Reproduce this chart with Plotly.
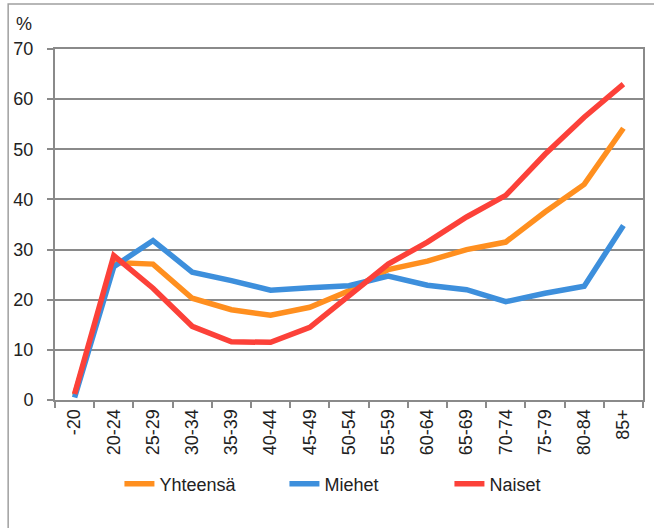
import plotly.graph_objects as go

ages = ["-20", "20-24", "25-29", "30-34", "35-39", "40-44", "45-49", "50-54",
        "55-59", "60-64", "65-69", "70-74", "75-79", "80-84", "85+"]
yhteensa = [1.0, 27.4, 27.1, 20.3, 18.0, 16.9, 18.5, 21.8, 26.0, 27.7, 30.0, 31.5, 37.5, 43.0, 54.2]
miehet = [0.5, 26.6, 31.8, 25.5, 23.8, 21.9, 22.4, 22.8, 24.7, 22.9, 22.0, 19.6, 21.3, 22.7, 34.8]
naiset = [1.2, 28.8, 22.3, 14.7, 11.6, 11.5, 14.5, 20.8, 27.1, 31.5, 36.5, 40.8, 49.0, 56.4, 63.0]

W, H = 654, 528
L, R, T, B = 55, 9, 49, 128
pw, ph = W - L - R, H - T - B

def px(x):
    return (x - L) / pw

def py(y):
    return (H - B - y) / ph

fnt = "Liberation Sans, Arial"
grid = "#8a8a8a"

fig = go.Figure()
for name, vals, col in [("Yhteensä", yhteensa, "#ff8f1f"),
                        ("Miehet", miehet, "#3d8fdc"),
                        ("Naiset", naiset, "#fc4139")]:
    fig.add_trace(go.Scatter(x=ages, y=vals, name=name, mode="lines",
                             line=dict(color=col, width=5.5)))

fig.update_layout(
    width=W, height=H,
    margin=dict(l=L, r=R, t=T, b=B),
    paper_bgcolor="white", plot_bgcolor="white",
    font=dict(family=fnt, size=17, color="#222"),
    showlegend=True,
    legend=dict(orientation="h", x=px(368), xanchor="center", y=py(484), yanchor="middle",
                font=dict(size=18), entrywidth=120, traceorder="normal"),
    xaxis=dict(type="category", range=[-0.5, 14.5], showgrid=False, showline=True,
               linecolor=grid, linewidth=2, mirror=True, ticks="outside",
               tickson="boundaries", ticklen=6, tickwidth=2, tickcolor=grid,
               tickangle=-90, tickfont=dict(size=18)),
    yaxis=dict(range=[0, 70], dtick=10, showgrid=True, gridcolor=grid, gridwidth=2,
               showline=True, linecolor=grid, linewidth=2, mirror=True, ticks="outside",
               ticklen=6, tickwidth=2, tickcolor=grid, zeroline=False,
               ticklabelstandoff=10, tickfont=dict(size=18)),
    shapes=[dict(type="rect", xref="paper", yref="paper",
                 x0=px(8), x1=px(670), y0=py(560), y1=py(4),
                 line=dict(color="#a0a0a0", width=1.5), layer="below")],
    annotations=[dict(text="%", xref="paper", yref="paper", x=px(24), y=py(24),
                      xanchor="center", yanchor="middle", showarrow=False,
                      font=dict(size=18))],
)

fig.write_html("out.html", config={"displayModeBar": False},
               post_script="document.body.style.margin='0';")
